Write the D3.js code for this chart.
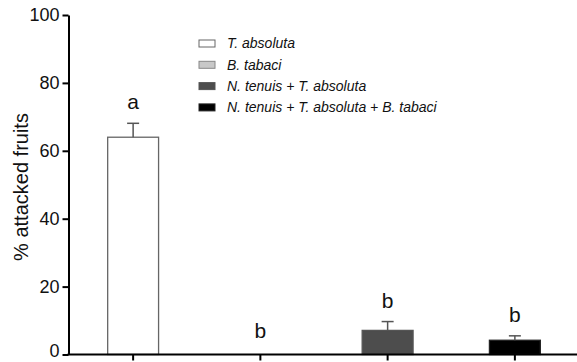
<!DOCTYPE html>
<html>
<head>
<meta charset="utf-8">
<script src="https://cdn.jsdelivr.net/npm/d3@7"></script>
<style>
  html, body { margin: 0; padding: 0; background: #fff; }
  svg { display: block; font-family: "Liberation Sans", Arial, sans-serif; }
</style>
</head>
<body>
<svg id="chart" width="577" height="362"></svg>
<script>
const categories = ["T. absoluta", "B. tabaci", "N. tenuis + T. absoluta", "N. tenuis + T. absoluta + B. tabaci"];
const means = [64.0, 0, 7.1, 4.2];
const errors = [4.1, 0, 2.6, 1.3];
const letters = ["a", "b", "b", "b"];
const fills = ["#ffffff", "#c8c8c8", "#4d4d4d", "#000000"];
const strokes = ["#666666", "#888888", "#555555", "#222222"];
const yTicks = [0, 20, 40, 60, 80, 100];
const yLabel = "% attacked fruits";

const svg = d3.select("#chart");

const x = d3.scaleBand().domain(categories).range([69.5, 578.5]).padding(0);
const y = d3.scaleLinear().domain([0, 100]).range([354.5, 15]);
const barW = x.bandwidth() * 0.4;
const cx = c => x(c) + x.bandwidth() / 2;

// Bars
svg.append("g").selectAll("rect").data(categories).join("rect")
  .attr("x", c => cx(c) - barW / 2)
  .attr("y", (c, i) => y(means[i]))
  .attr("width", barW)
  .attr("height", (c, i) => y(0) - y(means[i]))
  .attr("fill", (c, i) => fills[i])
  .attr("stroke", (c, i) => strokes[i])
  .attr("stroke-width", 1.3);

// Error bars
const eg = svg.append("g").attr("stroke", "#555").attr("stroke-width", 1.5);
categories.forEach((c, i) => {
  if (errors[i] <= 0) return;
  eg.append("line").attr("x1", cx(c)).attr("x2", cx(c))
    .attr("y1", y(means[i])).attr("y2", y(means[i] + errors[i]));
  eg.append("line").attr("x1", cx(c) - 6).attr("x2", cx(c) + 6)
    .attr("y1", y(means[i] + errors[i])).attr("y2", y(means[i] + errors[i]));
});

// Significance letters
svg.append("g").selectAll("text").data(categories).join("text")
  .attr("x", c => cx(c))
  .attr("y", (c, i) => y(means[i] + errors[i]) - (errors[i] > 0 ? 14 : 17))
  .attr("text-anchor", "middle")
  .attr("font-size", 21)
  .attr("fill", "#111")
  .text((c, i) => letters[i]);

// Y axis
const yAxis = svg.append("g").attr("transform", "translate(68.5,0)")
  .call(d3.axisLeft(y).tickValues(yTicks).tickSize(6).tickSizeOuter(0).tickPadding(3));
yAxis.select(".domain").attr("stroke", "#000").attr("stroke-width", 2);
yAxis.selectAll(".tick line").attr("stroke", "#000").attr("stroke-width", 2);
yAxis.selectAll(".tick text").attr("font-size", 18).attr("fill", "#111")
  .attr("dy", d => d === 0 ? "0.12em" : "0.3em")
  .attr("font-family", "'Liberation Sans', Arial, sans-serif");

// X axis
const xAxis = svg.append("g").attr("transform", "translate(0,354.5)")
  .call(d3.axisBottom(x).tickSize(6).tickSizeOuter(0).tickFormat(""));
xAxis.select(".domain").attr("stroke", "#000").attr("stroke-width", 2)
  .attr("d", "M67.5,0H577");
xAxis.selectAll(".tick line").attr("stroke", "#000").attr("stroke-width", 2);

// Y label
svg.append("text")
  .attr("transform", "translate(28,187) rotate(-90)")
  .attr("text-anchor", "middle")
  .attr("font-size", 20)
  .attr("fill", "#111")
  .text(yLabel);

// Legend
const lg = svg.append("g").attr("transform", "translate(199,43.5)");
categories.forEach((c, i) => {
  const row = lg.append("g").attr("transform", `translate(0,${i * 21.3})`);
  row.append("rect").attr("x", 0).attr("y", -3.5).attr("width", 16).attr("height", 7)
    .attr("fill", fills[i]).attr("stroke", strokes[i]).attr("stroke-width", 1);
  row.append("text").attr("x", 28).attr("y", 0).attr("dy", "0.35em")
    .attr("font-size", 14).attr("font-style", "italic").attr("fill", "#111")
    .text(c);
});
</script>
</body>
</html>
